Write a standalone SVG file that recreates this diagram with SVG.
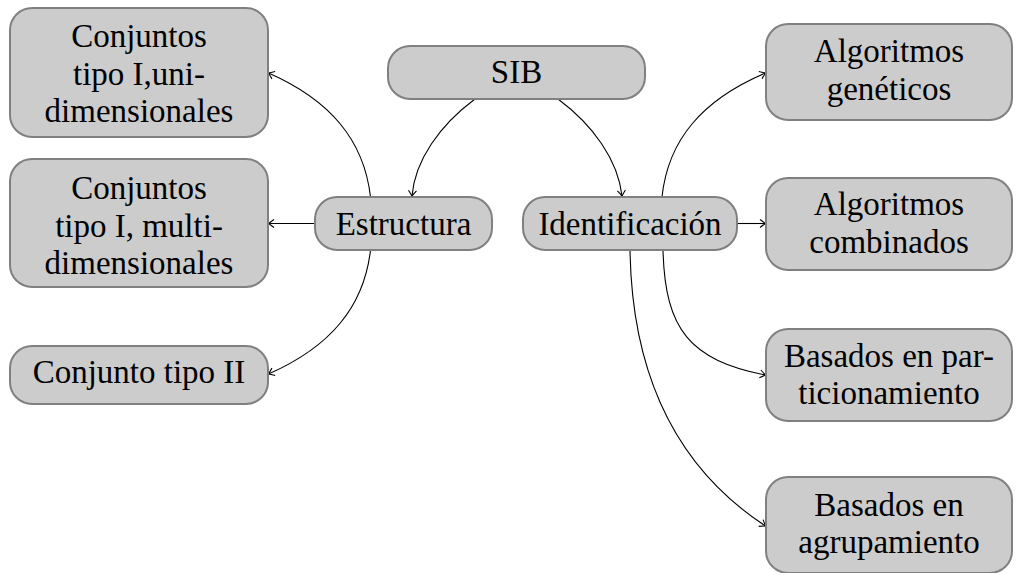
<svg xmlns="http://www.w3.org/2000/svg" width="1016" height="573" viewBox="0 0 1016 573">
<style>
.box{fill:#cccccc;stroke:#808080;stroke-width:2}
.t{font-family:'Liberation Serif','Times New Roman',serif;font-size:33px;fill:#000;text-anchor:middle}
.c{fill:none;stroke:#000;stroke-width:1.1;marker-end:url(#arr)}
</style>
<defs>
<marker id="arr" markerUnits="userSpaceOnUse" markerWidth="12" markerHeight="12" refX="0" refY="0" viewBox="-7 -6 8 12" orient="auto" overflow="visible">
<path d="M-5.5,-4 Q-1.5,-1 0,0 Q-1.5,1 -5.5,4" fill="none" stroke="#000" stroke-width="1.1"/>
</marker>
</defs>
<rect width="1016" height="573" fill="#fff"/>
<g id="connectors">
<path class="c" d="M475,99 C440,125 415,160 412,196"/>
<path class="c" d="M558,99 C593,125 618,160 622,196"/>
<path class="c" d="M370.5,197 C364,140 330,100 268.5,73"/>
<path class="c" d="M315,223.5 L268.5,223.5"/>
<path class="c" d="M370.5,250 C364,307 330,347 268.5,374"/>
<path class="c" d="M662,197 C668,140 702,100 765.5,73"/>
<path class="c" d="M737,223.5 L765.5,223.5"/>
<path class="c" d="M663,250 C665,330 690,360 765.5,375"/>
<path class="c" d="M630,250 C632,380 680,470 765.5,526"/>
</g>
<g id="sib">
<rect class="box" x="388" y="46" width="257" height="53" rx="22"/>
<text class="t" x="516.5" y="83">SIB</text>
</g>
<g id="estructura">
<rect class="box" x="315" y="197" width="177" height="53" rx="22"/>
<text class="t" x="403.5" y="235">Estructura</text>
</g>
<g id="identificacion">
<rect class="box" x="523" y="197" width="214" height="53" rx="22"/>
<text class="t" x="630" y="235">Identificación</text>
</g>
<g id="conj-uni">
<rect class="box" x="10" y="8" width="258" height="129" rx="22"/>
<text class="t" x="139" y="47">Conjuntos</text>
<text class="t" x="139" y="85">tipo I,uni-</text>
<text class="t" x="139" y="122">dimensionales</text>
</g>
<g id="conj-multi">
<rect class="box" x="10" y="159" width="258" height="128" rx="22"/>
<text class="t" x="139" y="199">Conjuntos</text>
<text class="t" x="139" y="237">tipo I, multi-</text>
<text class="t" x="139" y="274">dimensionales</text>
</g>
<g id="conj-ii">
<rect class="box" x="10" y="346" width="258" height="58" rx="22"/>
<text class="t" x="139" y="383">Conjunto tipo II</text>
</g>
<g id="alg-gen">
<rect class="box" x="766" y="24" width="246" height="96" rx="22"/>
<text class="t" x="889" y="62">Algoritmos</text>
<text class="t" x="889" y="100">genéticos</text>
</g>
<g id="alg-comb">
<rect class="box" x="766" y="178" width="246" height="92" rx="22"/>
<text class="t" x="889" y="215">Algoritmos</text>
<text class="t" x="889" y="253">combinados</text>
</g>
<g id="bas-part">
<rect class="box" x="766" y="329" width="246" height="92" rx="22"/>
<text class="t" x="889" y="367">Basados en par-</text>
<text class="t" x="889" y="404">ticionamiento</text>
</g>
<g id="bas-agr">
<rect class="box" x="766" y="477" width="246" height="96" rx="22"/>
<text class="t" x="889" y="516">Basados en</text>
<text class="t" x="889" y="553">agrupamiento</text>
</g>
</svg>
